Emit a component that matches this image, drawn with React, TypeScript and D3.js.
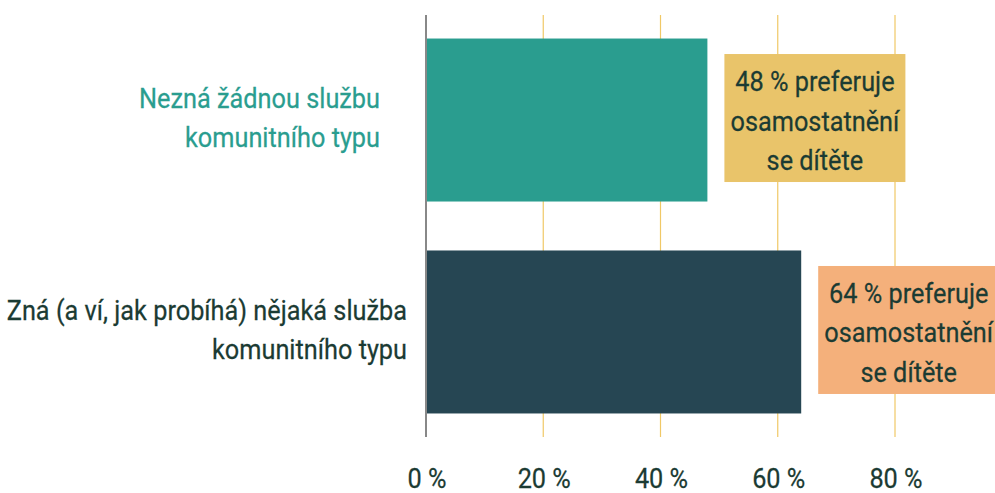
import React from "react";
import * as d3 from "d3";

const categories: string[][] = [
  ["Nezná žádnou službu", "komunitního typu"],
  ["Zná (a ví, jak probíhá) nějaká služba", "komunitního typu"],
];
const values: number[] = [48, 64];
const annotations: string[][] = [
  ["48 % preferuje", "osamostatnění", "se dítěte"],
  ["64 % preferuje", "osamostatnění", "se dítěte"],
];
const tickValues: number[] = [0, 20, 40, 60, 80];
const tickLabels: string[] = ["0 %", "20 %", "40 %", "60 %", "80 %"];

const barColors = ["#2a9d8f", "#264653"];
const boxColors = ["#e9c46a", "#f4b07b"];
const labelColors = ["#2a9d8f", "#1b3b33"];
const labelInsets = [46, 19];
const textColor = "#1b3b33";

const W = 995;
const H = 493;
const FONT = "Roboto, 'Noto Sans', sans-serif";
const FS = 27.5;
const SX = 0.92;

function T(props: {
  x: number;
  y: number;
  anchor: "start" | "middle" | "end";
  fill: string;
  children: string;
}) {
  return (
    <text
      transform={`translate(${props.x},${props.y}) scale(${SX},1)`}
      textAnchor={props.anchor}
      fontSize={FS}
      fill={props.fill}
      stroke={props.fill}
      strokeWidth={0.25}
    >
      {props.children}
    </text>
  );
}

export default function App() {
  const x = d3.scaleLinear().domain([0, 80]).range([426, 895]);
  const y = d3
    .scaleBand<number>()
    .domain(d3.range(values.length))
    .range([15, 437])
    .paddingInner(0.231)
    .paddingOuter(0.111);
  const bw = y.bandwidth();
  const lineH = 39.5;
  const boxW = 181;
  const boxInset = 16.5;

  return (
    <svg
      width={W}
      height={H}
      style={{ position: "absolute", left: 0, top: 0, background: "#fff" }}
      fontFamily={FONT}
    >
      {tickValues.slice(1).map((t) => (
        <line
          key={t}
          x1={x(t)}
          x2={x(t)}
          y1={15}
          y2={437}
          stroke="#f0c866"
          strokeWidth={1.2}
        />
      ))}
      {values.map((v, i) => {
        const y0 = y(i)!;
        const cy = y0 + bw / 2;
        const bx = x(v) + 17;
        return (
          <g key={i}>
            <rect x={x(0)} y={y0} width={x(v) - x(0)} height={bw} fill={barColors[i]} />
            <rect
              x={bx}
              y={y0 + boxInset - 1}
              width={boxW}
              height={bw - 2 * boxInset - 2}
              fill={boxColors[i]}
            />
            {annotations[i].map((line, j) => (
              <T
                key={j}
                x={bx + boxW / 2}
                y={cy + (j - 1) * lineH + 10.5}
                anchor="middle"
                fill={textColor}
              >
                {line}
              </T>
            ))}
            {categories[i].map((line, j) => (
              <T
                key={j}
                x={x(0) - labelInsets[i]}
                y={cy + (j - 0.5) * lineH + 7.5}
                anchor="end"
                fill={labelColors[i]}
              >
                {line}
              </T>
            ))}
          </g>
        );
      })}
      <line x1={x(0)} x2={x(0)} y1={15} y2={437} stroke="#888" strokeWidth={2} />
      {tickValues.map((t, i) => (
        <T key={t} x={x(t) + 1} y={488} anchor="middle" fill={textColor}>
          {tickLabels[i]}
        </T>
      ))}
    </svg>
  );
}
